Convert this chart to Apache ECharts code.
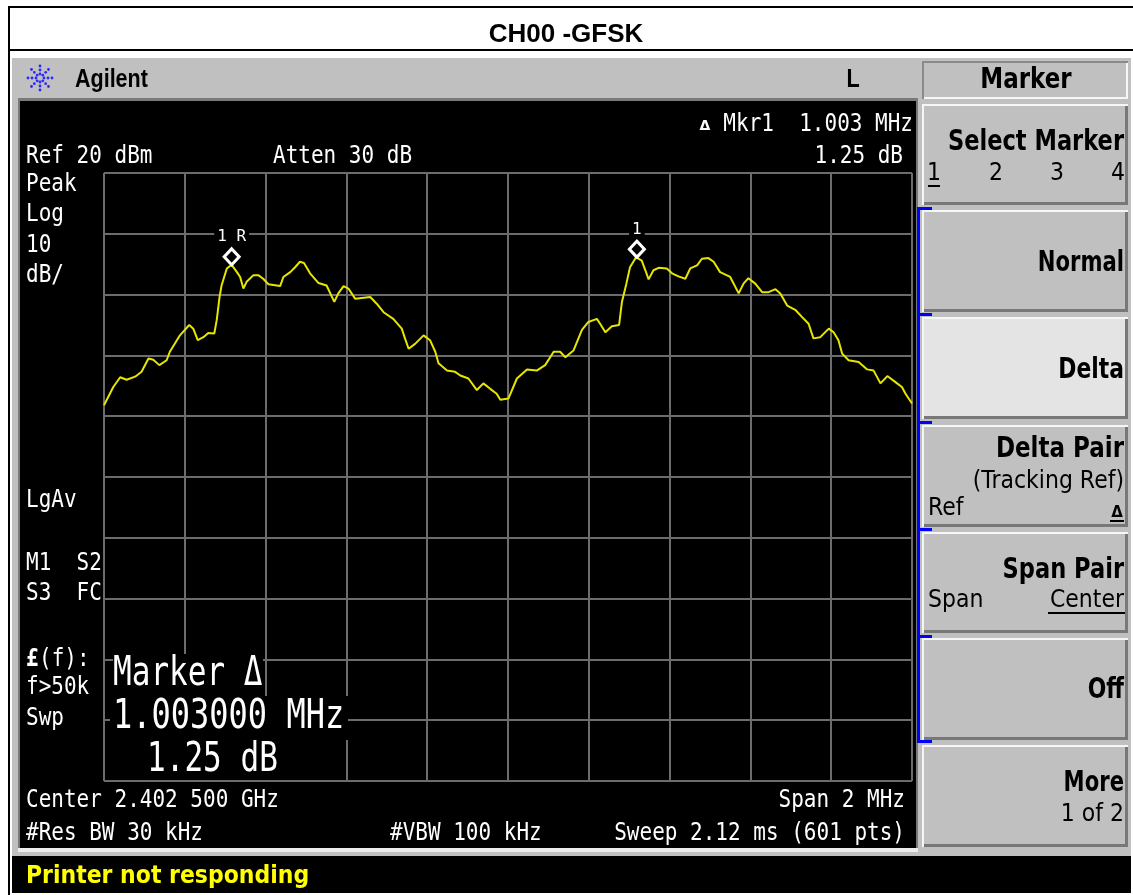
<!DOCTYPE html>
<html><head><meta charset="utf-8">
<script src="https://cdn.jsdelivr.net/npm/echarts@6/dist/echarts.min.js"></script>
<style>html,body{margin:0;padding:0;background:#fff}#c{width:1133px;height:895px}</style>
</head><body><div id="c"></div>
<script>
// ---- data (frequency offset from center 2.402 500 GHz, kHz; level dBm) ----
const freqOffsetKHz = [-1000,-977,-960,-944,-923,-907,-890,-878,-863,-845,-837,-812,-789,-779,-768,-754,-742,-727,-721,-714,-709,-696,-684,-671,-663,-655,-647,-630,-618,-606,-593,-564,-556,-539,-527,-515,-505,-490,-469,-449,-430,-420,-407,-395,-378,-341,-325,-308,-284,-263,-255,-246,-230,-209,-193,-180,-172,-151,-131,-118,-98,-77,-61,-44,-28,-19,1,22,47,71,92,113,129,142,162,183,199,220,228,241,257,275,282,293,302,317,331,340,348,360,373,393,406,422,439,451,468,480,496,509,525,550,571,583,595,612,629,645,662,674,691,711,728,744,756,773,794,806,818,827,843,868,889,905,922,939,959,975,984,1000];
const levelDbm = [-18.2,-15.2,-13.6,-14.0,-13.5,-12.7,-10.5,-10.7,-11.6,-10.8,-9.4,-6.7,-5.0,-5.6,-7.5,-7.0,-6.3,-6.4,-4.2,-0.4,1.5,4.3,4.9,3.7,2.9,1.0,2.1,3.2,3.2,2.6,1.7,1.4,2.9,3.7,4.5,5.4,5.2,3.5,1.9,1.5,-1.2,0.2,1.4,1.0,-0.7,-0.4,-1.5,-2.9,-4.0,-5.6,-7.2,-8.9,-8.1,-6.7,-7.5,-9.4,-11.3,-12.5,-12.7,-13.3,-13.8,-15.7,-14.6,-15.5,-16.3,-17.3,-17.1,-13.8,-12.3,-12.5,-11.6,-9.4,-9.4,-10.3,-9.2,-5.8,-4.5,-4.0,-4.8,-6.2,-5.2,-5.0,-1.2,1.8,4.5,6.15,5.6,4.0,2.5,4.0,4.4,4.3,3.5,3.0,2.6,4.3,4.8,5.9,6.0,5.4,3.7,2.9,0.2,1.8,2.7,1.8,0.4,0.4,0.9,0.2,-1.8,-2.5,-3.7,-4.8,-7.2,-7.0,-5.6,-6.2,-7.5,-9.7,-10.8,-11.1,-12.3,-12.5,-14.6,-13.4,-14.4,-15.2,-16.3,-17.9];
const markerOffsetKHz = [-684, 319];
const markerLevelDbm = [4.9, 6.15];
const markerLabels = ['1 R', '1'];
const refLevel = 20, dbPerDiv = 10, spanKHz = 2000;

const traceData = freqOffsetKHz.map((f, i) => [f, levelDbm[i]]);
const markerData = markerOffsetKHz.map((f, i) => ({ value: [f, markerLevelDbm[i]], label: { formatter: markerLabels[i] } }));

// ---- graphic helpers ----
const G = [];
const DY = 3;
function rect(x, y, w, h, fill, z) { G.push({ type: 'rect', z: z || 1, shape: { x, y, width: w, height: h }, style: { fill } }); }
function txt(text, x, y, font, fill, align, sx, sy, z) {
  G.push({ type: 'text', z: z || 20, x, y: y + DY, scaleX: sx || 1, scaleY: sy || 1,
    style: { text, font, fill: fill || '#fff', textAlign: align || 'left', textVerticalAlign: 'middle', align: align || 'left', verticalAlign: 'middle' } });
}
function key(x, y, w, h, fill) {
  rect(x, y, w, h, '#f6f6f6', 2);
  rect(x + 2, y + 2, w - 2, h - 2, '#787878', 2);
  rect(x + 2, y + 2, w - 5, h - 5, fill, 2);
}

// page frame
rect(8, 6, 1125, 2, '#000');
rect(8, 49, 1125, 2, '#000');
rect(8, 6, 2, 889, '#000');
// instrument panel
rect(12, 58, 1119, 798, '#c0c0c0');
rect(18, 98, 900, 752, '#7a7a7a');
rect(20, 101, 896, 747, '#000');
rect(18, 848, 900, 4, '#ececec');
rect(12, 856, 1119, 37, '#000');
// softkeys
rect(922, 61, 206, 38, '#8a8a8a', 2);
rect(924, 63, 204, 36, '#f6f6f6', 2);
rect(924, 63, 202, 34, '#c0c0c0', 2);
key(922, 104, 206, 101, '#c0c0c0');
key(922, 210, 206, 102, '#c0c0c0');
key(922, 317, 206, 102, '#e4e4e4');
key(922, 425, 206, 102, '#c0c0c0');
key(922, 532, 206, 101, '#c0c0c0');
key(922, 638, 206, 102, '#c0c0c0');
key(922, 745, 206, 102, '#c0c0c0');
rect(917, 207, 3, 536, '#0000ff', 3);
[207, 313, 421, 528, 635, 740].forEach(y => rect(917, y, 15, 3, '#0000ff', 3));
// Agilent logo (dots)
for (let a = 0; a < 8; a++) {
  const ang = a * Math.PI / 4;
  for (let r = 4; r <= 12; r += 4) {
    G.push({ type: 'circle', z: 3, shape: { cx: 40 + r * Math.cos(ang), cy: 78 + r * Math.sin(ang), r: 1.4 }, style: { fill: '#2a2aff' } });
  }
}

// title + header
txt('CH00 -GFSK', 566, 32, 'bold 26px "Liberation Sans"', '#000', 'center');
txt('Agilent', 75, 77, 'bold 25px "Liberation Sans"', '#000', 'left', 0.86, 1);
txt('L', 853, 77, 'bold 24px "Liberation Sans"', '#000', 'center', 0.9, 1.05);

// screen annotations
const FM = '21px "DejaVu Sans Mono"', SY = 1.16;
txt('Ref 20 dBm', 26, 154, FM, '#fff', 'left', 1, SY);
txt('Atten 30 dB', 273, 154, FM, '#fff', 'left', 1, SY);
txt('\u0394', 705, 123, 'bold 14px "DejaVu Sans"', '#fff', 'center', 1, 1);
txt('Mkr1  1.003 MHz', 913, 122, FM, '#fff', 'right', 1, SY);
txt('1.25 dB', 903, 154, FM, '#fff', 'right', 1, SY);
txt('Peak', 26, 182, FM, '#fff', 'left', 1, SY);
txt('Log', 26, 212, FM, '#fff', 'left', 1, SY);
txt('10', 26, 243, FM, '#fff', 'left', 1, SY);
txt('dB/', 26, 273, FM, '#fff', 'left', 1, SY);
txt('LgAv', 26, 498, FM, '#fff', 'left', 1, SY);
txt('M1  S2', 26, 561, FM, '#fff', 'left', 1, SY);
txt('S3  FC', 26, 591, FM, '#fff', 'left', 1, SY);
txt('\u00a3', 26, 657, 'bold ' + FM, '#fff', 'left', 1, SY);
txt('(f):', 39, 657, FM, '#fff', 'left', 1, SY);
txt('f>50k', 26, 685, FM, '#fff', 'left', 1, SY);
txt('Swp', 26, 716, FM, '#fff', 'left', 1, SY);
txt('Center 2.402 500 GHz', 26, 798, FM, '#fff', 'left', 1, SY);
txt('Span 2 MHz', 905, 798, FM, '#fff', 'right', 1, SY);
txt('#Res BW 30 kHz', 26, 831, FM, '#fff', 'left', 1, SY);
txt('#VBW 100 kHz', 390, 831, FM, '#fff', 'left', 1, SY);
txt('Sweep 2.12 ms (601 pts)', 905, 831, FM, '#fff', 'right', 1, SY);
// marker readout box (black backgrounds over the graticule)
rect(113, 654, 150, 42, '#000', 18);
rect(110, 696, 238, 44, '#000', 18);
rect(106, 740, 184, 40, '#000', 18);
const FB = '32px "DejaVu Sans Mono"', SB = 1.28;
txt('Marker \u0394', 113, 671, FB, '#fff', 'left', 0.97, SB);
txt('1.003000 MHz', 113, 714, FB, '#fff', 'left', 1, SB);
txt('1.25 dB', 147, 757, FB, '#fff', 'left', 0.97, SB);
// status line
txt('Printer not responding', 26, 874, 'bold 22px "DejaVu Sans"', '#ffff00', 'left', 1, 1.1);

// softkey labels
const SKF = 'bold 23px "DejaVu Sans"', SKY = 1.22;
const SKN = '22px "DejaVu Sans"', SKNY = 1.1;
txt('Marker', 1026, 78, SKF, '#000', 'center', 1, SKY);
txt('Select Marker', 1124, 140, SKF, '#000', 'right', 0.98, SKY);
txt('1', 934, 171, SKN, '#000', 'center', 1, SKNY);
txt('2', 996, 171, SKN, '#000', 'center', 1, SKNY);
txt('3', 1057, 171, SKN, '#000', 'center', 1, SKNY);
txt('4', 1118, 171, SKN, '#000', 'center', 1, SKNY);
rect(928, 185, 12, 2, '#000', 21);
txt('Normal', 1124, 261, SKF, '#000', 'right', 0.92, SKY);
txt('Delta', 1124, 368, SKF, '#000', 'right', 0.95, SKY);
txt('Delta Pair', 1124, 447, SKF, '#000', 'right', 1, SKY);
txt('(Tracking Ref)', 1124, 479, SKN, '#000', 'right', 1, SKNY);
txt('Ref', 928, 506, SKN, '#000', 'left', 1, SKNY);
txt('\u0394', 1117, 510, 'bold 15px "DejaVu Sans"', '#000', 'center', 1, 1);
rect(1110, 520, 14, 2, '#000', 21);
txt('Span Pair', 1124, 568, SKF, '#000', 'right', 0.98, SKY);
txt('Span', 928, 598, SKN, '#000', 'left', 1, SKNY);
txt('Center', 1124, 598, SKN, '#000', 'right', 1, SKNY);
rect(1048, 612, 77, 2, '#000', 21);
txt('Off', 1124, 688, SKF, '#000', 'right', 0.95, SKY);
txt('More', 1124, 781, SKF, '#000', 'right', 0.92, SKY);
txt('1 of 2', 1124, 812, SKN, '#000', 'right', 1, SKNY);

const chart = echarts.init(document.getElementById('c'), null, { renderer: 'canvas' });
chart.setOption({
  backgroundColor: '#ffffff',
  animation: false,
  grid: { left: 104, top: 173, width: 808, height: 608, show: false },
  xAxis: {
    type: 'value', min: -spanKHz / 2, max: spanKHz / 2, interval: spanKHz / 10, z: 5,
    axisLine: { show: false }, axisTick: { show: false }, axisLabel: { show: false },
    splitLine: { show: true, showMinLine: true, showMaxLine: true, lineStyle: { color: '#6c6c6c', width: 2 } }
  },
  yAxis: {
    type: 'value', min: refLevel - 10 * dbPerDiv, max: refLevel, interval: dbPerDiv, z: 5,
    axisLine: { show: false }, axisTick: { show: false }, axisLabel: { show: false },
    splitLine: { show: true, showMinLine: true, showMaxLine: true, lineStyle: { color: '#6c6c6c', width: 2 } }
  },
  series: [
    { type: 'line', z: 6, data: traceData, showSymbol: false, symbol: 'none',
      lineStyle: { color: '#e6e600', width: 2 }, silent: true },
    { type: 'scatter', z: 7, data: markerData, symbol: 'diamond', symbolSize: [15, 16], symbolOffset: [0, -8],
      itemStyle: { color: '#000', borderColor: '#ffffff', borderWidth: 3, opacity: 1 },
      emphasis: { disabled: true },
      label: { show: true, position: 'top', distance: 2, color: '#ffffff', fontSize: 16,
        fontFamily: 'DejaVu Sans Mono', backgroundColor: '#000', padding: [0, 3] } }
  ],
  graphic: { elements: G }
});
</script></body></html>
